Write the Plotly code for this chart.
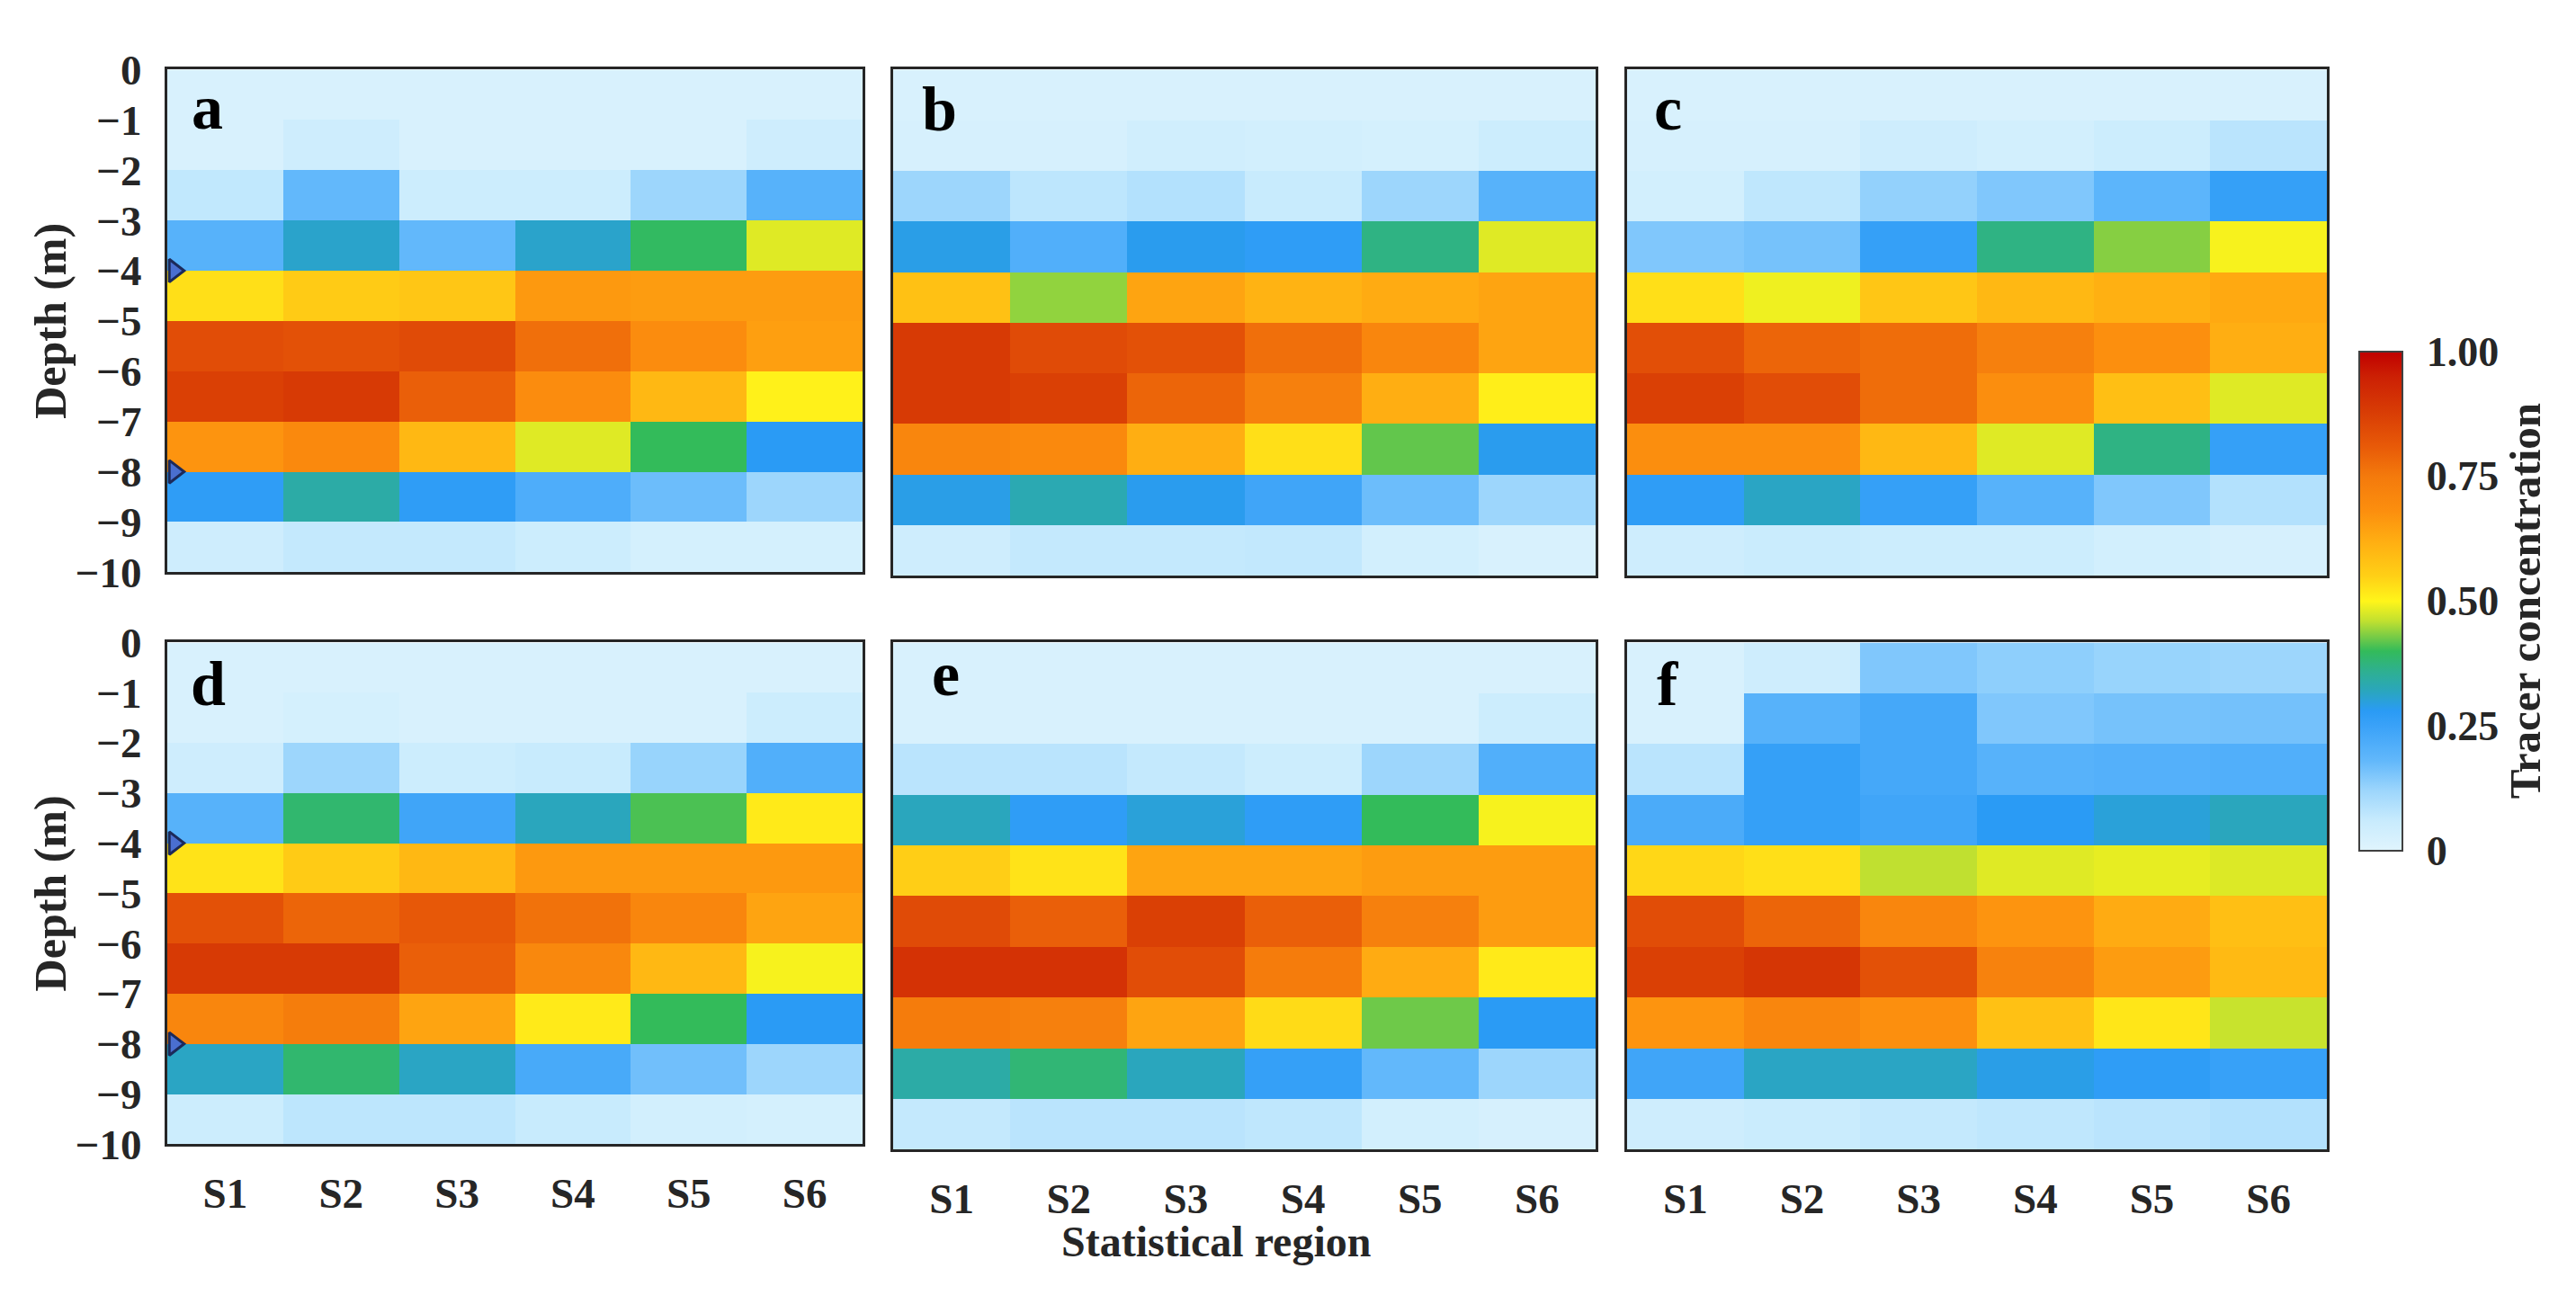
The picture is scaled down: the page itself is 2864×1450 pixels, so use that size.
import plotly.graph_objects as go

# ---------------- data ----------------
regions = ["S1", "S2", "S3", "S4", "S5", "S6"]
depth_centers = [-0.5, -1.5, -2.5, -3.5, -4.5, -5.5, -6.5, -7.5, -8.5, -9.5]
depth_ticks = [0, -1, -2, -3, -4, -5, -6, -7, -8, -9, -10]
depth_tick_labels = ["0", "−1", "−2", "−3", "−4", "−5", "−6", "−7", "−8", "−9", "−10"]
marker_depths = [-4, -8]
panel_labels = ["a", "b", "c", "d", "e", "f"]
cbar_ticks = [0, 0.25, 0.5, 0.75, 1.0]
cbar_labels = ["0", "0.25", "0.50", "0.75", "1.00"]

# rows: 0~-1 m ... -9~-10 m ; columns S1..S6
conc_a = [
    [0.02, 0.02, 0.02, 0.02, 0.02, 0.02],
    [0.02, 0.045, 0.02, 0.02, 0.02, 0.045],
    [0.07, 0.18, 0.05, 0.05, 0.12, 0.20],
    [0.20, 0.31, 0.18, 0.31, 0.395, 0.48],
    [0.53, 0.56, 0.57, 0.66, 0.655, 0.655],
    [0.84, 0.83, 0.845, 0.77, 0.69, 0.65],
    [0.87, 0.885, 0.80, 0.69, 0.60, 0.505],
    [0.67, 0.70, 0.60, 0.48, 0.40, 0.28],
    [0.27, 0.34, 0.27, 0.215, 0.17, 0.12],
    [0.045, 0.065, 0.065, 0.05, 0.03, 0.03],
]
conc_b = [
    [0.02, 0.02, 0.02, 0.02, 0.02, 0.02],
    [0.025, 0.025, 0.04, 0.035, 0.03, 0.05],
    [0.12, 0.075, 0.09, 0.06, 0.12, 0.20],
    [0.29, 0.21, 0.285, 0.27, 0.37, 0.48],
    [0.58, 0.44, 0.64, 0.61, 0.625, 0.64],
    [0.885, 0.845, 0.83, 0.77, 0.71, 0.64],
    [0.885, 0.87, 0.79, 0.73, 0.62, 0.51],
    [0.71, 0.70, 0.62, 0.53, 0.42, 0.285],
    [0.29, 0.33, 0.285, 0.24, 0.17, 0.12],
    [0.045, 0.065, 0.065, 0.068, 0.035, 0.02],
]
conc_c = [
    [0.02, 0.02, 0.02, 0.02, 0.02, 0.02],
    [0.025, 0.025, 0.045, 0.035, 0.05, 0.08],
    [0.035, 0.072, 0.13, 0.15, 0.19, 0.26],
    [0.15, 0.16, 0.26, 0.37, 0.435, 0.495],
    [0.53, 0.49, 0.57, 0.60, 0.615, 0.63],
    [0.835, 0.79, 0.775, 0.73, 0.68, 0.62],
    [0.87, 0.84, 0.775, 0.685, 0.585, 0.48],
    [0.685, 0.685, 0.60, 0.48, 0.37, 0.26],
    [0.27, 0.315, 0.26, 0.20, 0.15, 0.09],
    [0.045, 0.055, 0.05, 0.05, 0.035, 0.025],
]
conc_d = [
    [0.02, 0.02, 0.02, 0.02, 0.02, 0.02],
    [0.02, 0.03, 0.02, 0.02, 0.02, 0.05],
    [0.045, 0.12, 0.05, 0.06, 0.125, 0.21],
    [0.20, 0.385, 0.24, 0.32, 0.41, 0.515],
    [0.525, 0.56, 0.60, 0.66, 0.66, 0.66],
    [0.83, 0.79, 0.815, 0.765, 0.71, 0.64],
    [0.885, 0.885, 0.80, 0.705, 0.60, 0.495],
    [0.71, 0.74, 0.64, 0.515, 0.40, 0.28],
    [0.315, 0.385, 0.315, 0.225, 0.165, 0.12],
    [0.05, 0.075, 0.075, 0.06, 0.035, 0.03],
]
conc_e = [
    [0.02, 0.02, 0.02, 0.02, 0.02, 0.02],
    [0.02, 0.02, 0.02, 0.02, 0.02, 0.05],
    [0.08, 0.08, 0.065, 0.05, 0.12, 0.21],
    [0.32, 0.27, 0.30, 0.27, 0.40, 0.495],
    [0.555, 0.525, 0.64, 0.64, 0.655, 0.655],
    [0.845, 0.80, 0.87, 0.80, 0.73, 0.655],
    [0.905, 0.905, 0.84, 0.745, 0.625, 0.515],
    [0.745, 0.73, 0.64, 0.535, 0.425, 0.28],
    [0.34, 0.38, 0.32, 0.26, 0.18, 0.12],
    [0.065, 0.08, 0.08, 0.072, 0.035, 0.025],
]
conc_f = [
    [0.02, 0.045, 0.15, 0.135, 0.125, 0.12],
    [0.02, 0.20, 0.23, 0.15, 0.16, 0.162],
    [0.08, 0.26, 0.23, 0.20, 0.205, 0.21],
    [0.22, 0.26, 0.24, 0.28, 0.30, 0.32],
    [0.54, 0.53, 0.46, 0.48, 0.485, 0.478],
    [0.84, 0.79, 0.71, 0.67, 0.625, 0.585],
    [0.87, 0.895, 0.83, 0.725, 0.655, 0.595],
    [0.67, 0.71, 0.68, 0.58, 0.52, 0.465],
    [0.24, 0.315, 0.315, 0.29, 0.27, 0.255],
    [0.045, 0.055, 0.065, 0.072, 0.08, 0.09],
]
panels = [conc_a, conc_b, conc_c, conc_d, conc_e, conc_f]

# ---------------- style ----------------
# the page body keeps its default 8px margin, so the figure is drawn 8px in
OFF = 8
W, H = 2864 - 2 * OFF, 1450 - 2 * OFF


def px(xp):
    return (xp - OFF) / W


def py(yp):
    return 1 - (yp - OFF) / H


colorscale = [
    [0.00, "#e0f4fd"], [0.06, "#c8ebfd"], [0.12, "#9dd6fc"], [0.18, "#62b8fb"],
    [0.25, "#3aa2f8"], [0.28, "#2a9bf5"], [0.32, "#2aa6bd"], [0.36, "#2eb090"],
    [0.40, "#33bb5a"], [0.43, "#7acc45"], [0.46, "#c0e030"], [0.50, "#fff51a"],
    [0.55, "#ffd016"], [0.62, "#ffae12"], [0.68, "#fc8f0e"], [0.75, "#f47a0c"],
    [0.81, "#e85a08"], [0.88, "#d83c05"], [0.95, "#cc2004"], [1.00, "#c00000"],
]
FONT = "Liberation Serif"
TXT = "#262626"

# pixel boxes in the screenshot (left, right, top, bottom)
boxes = [
    (186, 959, 53, 633), (993, 1774, 53, 637), (1809, 2587, 53, 637),
    (186, 959, 714, 1293), (993, 1774, 714, 1299), (1809, 2587, 714, 1299),
]
letter_pos = [(0.032, 0.925), (0.038, 0.921), (0.036, 0.924),
              (0.031, 0.917), (0.052, 0.938), (0.040, 0.918)]

# colorbar box (pixels)
CB_L, CB_R, CB_T, CB_B = 2623, 2671, 378, 954

fig = go.Figure()
x_range = [-0.5, len(regions) - 0.5]
x_idx = list(range(len(regions)))

for i, z in enumerate(panels):
    n = i + 1
    xa = "x" if n == 1 else f"x{n}"
    ya = "y" if n == 1 else f"y{n}"
    fig.add_trace(go.Heatmap(
        z=z, x=x_idx, y=depth_centers, colorscale=colorscale, zmin=0, zmax=1,
        xaxis=xa, yaxis=ya, showscale=(i == 0), hoverinfo="skip",
        colorbar=dict(
            x=px(CB_L), xanchor="left", xpad=0, ypad=0,
            y=(py(CB_T) + py(CB_B)) / 2, yanchor="middle",
            len=(CB_B - CB_T) / H, lenmode="fraction",
            thickness=CB_R - CB_L, thicknessmode="pixels",
            outlinewidth=2, outlinecolor="#404040",
            tickvals=cbar_ticks, ticktext=cbar_labels,
            ticks="outside", ticklen=17, tickcolor="rgba(0,0,0,0)",
            tickfont=dict(family=FONT, size=46, color=TXT, weight="bold"),
            title=dict(text="Tracer concentration", side="right",
                       font=dict(family=FONT, size=49, color=TXT, weight="bold")),
        ) if i == 0 else None,
    ))
    l, r, t, b = boxes[i]
    left_col = i in (0, 3)
    bottom_row = i >= 3
    fig.layout[f"xaxis{'' if n == 1 else n}"] = dict(
        domain=[px(l), px(r)], range=x_range, anchor=ya,
        tickvals=x_idx, ticktext=regions, showticklabels=bottom_row,
        ticks="", showgrid=False, zeroline=False,
        showline=True, mirror=True, linecolor=TXT, linewidth=3,
        tickfont=dict(family=FONT, size=47, color=TXT, weight="bold"),
        ticklabelstandoff=11,
    )
    fig.layout[f"yaxis{'' if n == 1 else n}"] = dict(
        domain=[py(b), py(t)], range=[depth_ticks[-1], depth_ticks[0]], anchor=xa,
        tickvals=depth_ticks, ticktext=depth_tick_labels, showticklabels=left_col,
        ticks="", showgrid=False, zeroline=False,
        showline=True, mirror=True, linecolor=TXT, linewidth=3,
        tickfont=dict(family=FONT, size=47, color=TXT, weight="bold"),
        ticklabelstandoff=16,
    )
    # panel letter
    lx, ly = letter_pos[i]
    fig.add_annotation(
        text=panel_labels[i], xref=f"{xa} domain", yref=f"{ya} domain",
        x=lx, y=ly, xanchor="left", yanchor="middle", showarrow=False,
        font=dict(family=FONT, size=70, color="#000000", weight="bold"),
    )
    # markers on left column
    if left_col:
        fig.add_trace(go.Scatter(
            x=[x_range[0] + 0.06] * len(marker_depths), y=marker_depths,
            xaxis=xa, yaxis=ya, mode="markers", hoverinfo="skip", showlegend=False,
            cliponaxis=False,
            marker=dict(symbol="triangle-right", size=22, color="#4a6fd0",
                        line=dict(color="#1c2a5a", width=3)),
        ))
        fig.add_annotation(
            text="Depth (m)", xref="paper", yref="paper",
            x=px(56), y=py((t + b) / 2), textangle=-90, showarrow=False,
            xanchor="center", yanchor="middle",
            font=dict(family=FONT, size=50, color=TXT, weight="bold"),
        )

# small inside tick marks on the colorbar
for v in cbar_ticks[1:-1]:
    yv = py(CB_B - v * (CB_B - CB_T))
    fig.add_shape(type="line", xref="paper", yref="paper",
                  x0=px(CB_R - 8), x1=px(CB_R), y0=yv, y1=yv,
                  line=dict(color="#333333", width=2))

fig.add_annotation(
    text="Statistical region", xref="paper", yref="paper",
    x=px(1352), y=py(1376), showarrow=False, xanchor="center", yanchor="top",
    font=dict(family=FONT, size=48, color=TXT, weight="bold"),
)

fig.update_layout(
    width=W, height=H, margin=dict(l=0, r=0, t=0, b=0),
    paper_bgcolor="white", plot_bgcolor="white", showlegend=False,
    hovermode=False,
)

fig.write_html("out.html")
